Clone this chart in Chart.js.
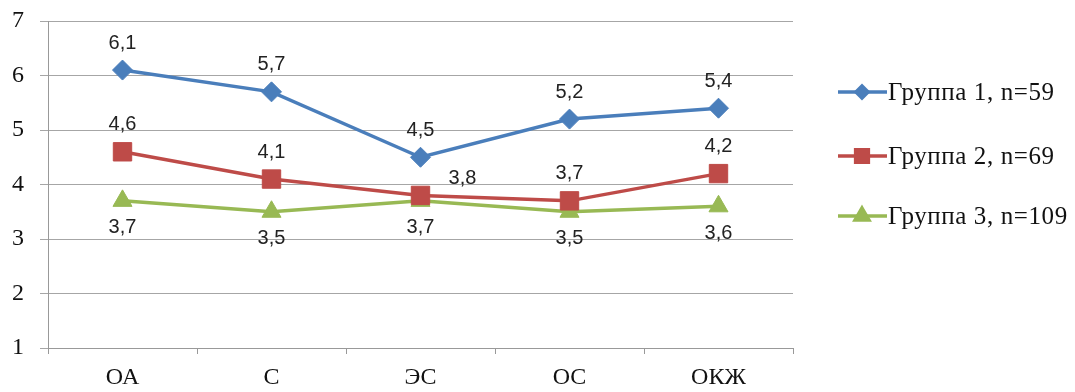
<!DOCTYPE html>
<html>
<head>
<meta charset="utf-8">
<script src="https://cdn.jsdelivr.net/npm/chart.js@4.4.0/dist/chart.umd.min.js"></script>
<style>
  html, body { margin: 0; padding: 0; background: #fff; }
  #wrap { width: 1075px; height: 392px; position: relative; }
</style>
</head>
<body>
<div id="wrap"><canvas id="chart"></canvas></div>
<script>
'use strict';

// ── Данные ─────────────────────────────────────────────
const categories = ['ОА', 'С', 'ЭС', 'ОС', 'ОКЖ'];
const group1 = [6.1, 5.7, 4.5, 5.2, 5.4];
const group2 = [4.6, 4.1, 3.8, 3.7, 4.2];
const group3 = [3.7, 3.5, 3.7, 3.5, 3.6];
const seriesNames = ['Группа 1, n=59', 'Группа 2, n=69', 'Группа 3, n=109'];
const yTicks = [1, 2, 3, 4, 5, 6, 7];

// где рисовать подпись значения: над, под или справа от точки
const labelPos = [
  ['top', 'top', 'top', 'top', 'top'],
  ['top', 'top', 'right', 'top', 'top'],
  ['bottom', 'bottom', 'bottom', 'bottom', 'bottom']
];

const SERIF = '"Liberation Serif", "DejaVu Serif", serif';
const SANS  = '"Liberation Sans", Arial, sans-serif';
const colors = ['#4a7ebb', '#be4b48', '#98b954'];
const markers = ['rectRot', 'rect', 'triangle'];
const radii = [10, 13, 11];
const legendRadii = [6, 9, 8];

const fmt = v => String(v).replace('.', ',');

// подписи осей не должны сдвигать область графика
const noPad = s => { s.paddingTop = 0; s.paddingBottom = 0; s.paddingLeft = 0; s.paddingRight = 0; };

// ── Подписи значений ───────────────────────────────────
const valueLabels = {
  id: 'valueLabels',
  afterDatasetsDraw(chart) {
    const ctx = chart.ctx;
    ctx.save();
    ctx.font = '20px ' + SANS;
    ctx.fillStyle = '#222';
    ctx.textAlign = 'center';
    ctx.textBaseline = 'middle';
    chart.data.datasets.forEach((ds, i) => {
      chart.getDatasetMeta(i).data.forEach((pt, j) => {
        const pos = labelPos[i][j];
        let x = pt.x, y = pt.y;
        if (pos === 'top') y -= 27;
        else if (pos === 'bottom') y += 27;
        else { x += 42; y -= 17; }
        ctx.fillText(fmt(ds.data[j]), x, y);
      });
    });
    ctx.restore();
  }
};

// ── Легенда справа: линия с маркером ───────────────────
const sideLegend = {
  id: 'sideLegend',
  afterDraw(chart) {
    const ctx = chart.ctx;
    const rows = [92, 156, 216];
    ctx.save();
    chart.data.datasets.forEach((ds, i) => {
      const y = rows[i];
      ctx.strokeStyle = ds.borderColor;
      ctx.lineWidth = 3.5;
      ctx.beginPath();
      ctx.moveTo(838, y);
      ctx.lineTo(887, y);
      ctx.stroke();
      Chart.helpers.drawPoint(ctx, {
        pointStyle: ds.pointStyle, radius: legendRadii[i], rotation: 0, borderWidth: 1
      }, 862, y);
      ctx.fillStyle = ds.backgroundColor;
      ctx.fill();
      ctx.fillStyle = '#111';
      ctx.font = '25px ' + SERIF;
      ctx.letterSpacing = '0.6px';
      ctx.textAlign = 'left';
      ctx.textBaseline = 'middle';
      ctx.fillText(ds.label, 888, y + 1);
      ctx.letterSpacing = '0px';
    });
    ctx.restore();
  }
};

const datasets = [group1, group2, group3].map((data, i) => ({
  label: seriesNames[i],
  data,
  borderColor: colors[i],
  backgroundColor: colors[i],
  borderWidth: 3.5,
  pointStyle: markers[i],
  pointRadius: radii[i],
  pointHoverRadius: radii[i],
  pointBorderWidth: 1,
  tension: 0
}));

new Chart(document.getElementById('chart'), {
  type: 'line',
  data: { labels: categories, datasets },
  plugins: [valueLabels, sideLegend],
  options: {
    responsive: true,
    maintainAspectRatio: false,
    animation: false,
    layout: { padding: { left: 0, top: 21, right: 282, bottom: 0 } },
    plugins: { legend: { display: false }, tooltip: { enabled: false } },
    scales: {
      x: {
        offset: true,
        afterFit: s => { s.height = 44; noPad(s); },
        grid: { offset: true, drawOnChartArea: false, drawTicks: true, tickLength: 6, color: '#999' },
        border: { color: '#999', width: 1 },
        ticks: { color: '#111', font: { family: SERIF, size: 24 }, padding: 9 }
      },
      y: {
        min: 1, max: 7,
        afterFit: s => { s.width = 48; noPad(s); },
        afterBuildTicks: s => { s.ticks = yTicks.map(v => ({ value: v })); },
        grid: { color: '#a6a6a6', lineWidth: 1, tickLength: 8 },
        border: { color: '#999', width: 1 },
        ticks: { color: '#111', font: { family: SERIF, size: 24 }, padding: 16 }
      }
    }
  }
});
</script>
</body>
</html>
